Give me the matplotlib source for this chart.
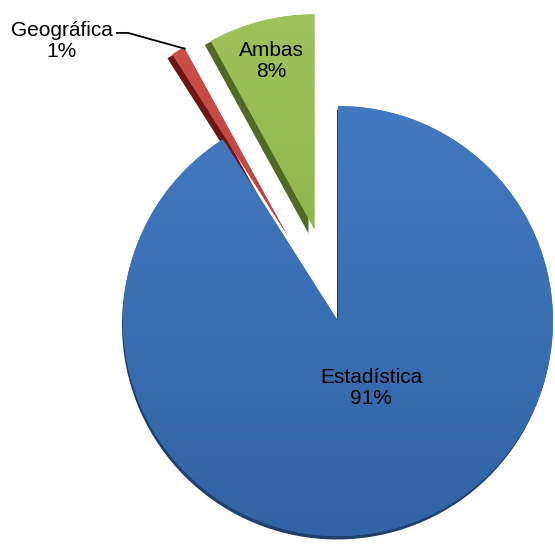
import numpy as np
import matplotlib
matplotlib.use('Agg')
import matplotlib.pyplot as plt
import matplotlib.colors as mcolors
from matplotlib.patches import Wedge
from matplotlib.transforms import ScaledTranslation

# datos
categorias = ['Estadística', 'Geográfica', 'Ambas']
porcentajes = [91, 1, 8]

# estilo
colores_claros = ['#4379C0', '#CC4F4A', '#9DC35A']
colores_oscuros = ['#3263A5', '#B23733', '#83AB3C']
sombras = ['#1F3F6C', '#6A1715', '#4F6A24']
separar = [0.0, 0.46, 0.44]
desplaz = [(-0.01, -0.035), (-0.05, -0.04), (-0.06, -0.04)]  # pulgadas

plt.rcParams['font.family'] = ['Liberation Sans', 'DejaVu Sans']

fig = plt.figure(figsize=(5.55, 5.45), dpi=100)
ax = fig.add_axes([0, 0, 1, 1])

wedges, _ = ax.pie(porcentajes, colors=colores_claros, explode=separar,
                   startangle=90, counterclock=False,
                   wedgeprops=dict(linewidth=0))

grad = np.linspace(0, 1, 256).reshape(-1, 1)
for i, w in enumerate(wedges):
    cx, cy = w.center
    # sombra / lado oscuro (efecto bisel)
    tr = ax.transData + ScaledTranslation(desplaz[i][0], desplaz[i][1], fig.dpi_scale_trans)
    s = Wedge((cx, cy), w.r, w.theta1, w.theta2, color=sombras[i],
              linewidth=0, transform=tr, zorder=0.5)
    ax.add_patch(s)
    # degradado vertical recortado a la cuña
    cmap = mcolors.LinearSegmentedColormap.from_list('g%d' % i, [colores_oscuros[i], colores_claros[i]])
    im = ax.imshow(grad, cmap=cmap, origin='lower', aspect='auto',
                   extent=[cx - w.r, cx + w.r, cy - w.r, cy + w.r], zorder=1.2)
    im.set_clip_path(w)

# etiquetas
ax.text(0.153, -0.312, '%s\n%d%%' % (categorias[0], porcentajes[0]),
        ha='center', va='center', fontsize=15, linespacing=1.15, zorder=3)

w = wedges[2]
mid = np.deg2rad((w.theta1 + w.theta2) / 2)
ax.text(w.center[0] + 0.81 * np.cos(mid), w.center[1] + 0.81 * np.sin(mid),
        '%s\n%d%%' % (categorias[2], porcentajes[2]),
        ha='center', va='center', fontsize=15, linespacing=1.15, zorder=3)

w = wedges[1]
mid = np.deg2rad((w.theta1 + w.theta2) / 2)
px = w.center[0] + w.r * np.cos(mid)
py = w.center[1] + w.r * np.sin(mid)
ax.text(-1.284, 1.302, '%s\n%d%%' % (categorias[1], porcentajes[1]),
        ha='center', va='center', fontsize=15, linespacing=1.15, zorder=3)
ax.plot([-1.028, -0.977, px + 0.03], [1.340, 1.340, py + 0.01], color='black', lw=1.3, zorder=3)

ax.set_xlim(-1.572, 1.0093)
ax.set_ylim(-1.0419, 1.493)
ax.set_aspect('auto')
ax.axis('off')

fig.savefig('out.png', dpi=100, facecolor='white')
